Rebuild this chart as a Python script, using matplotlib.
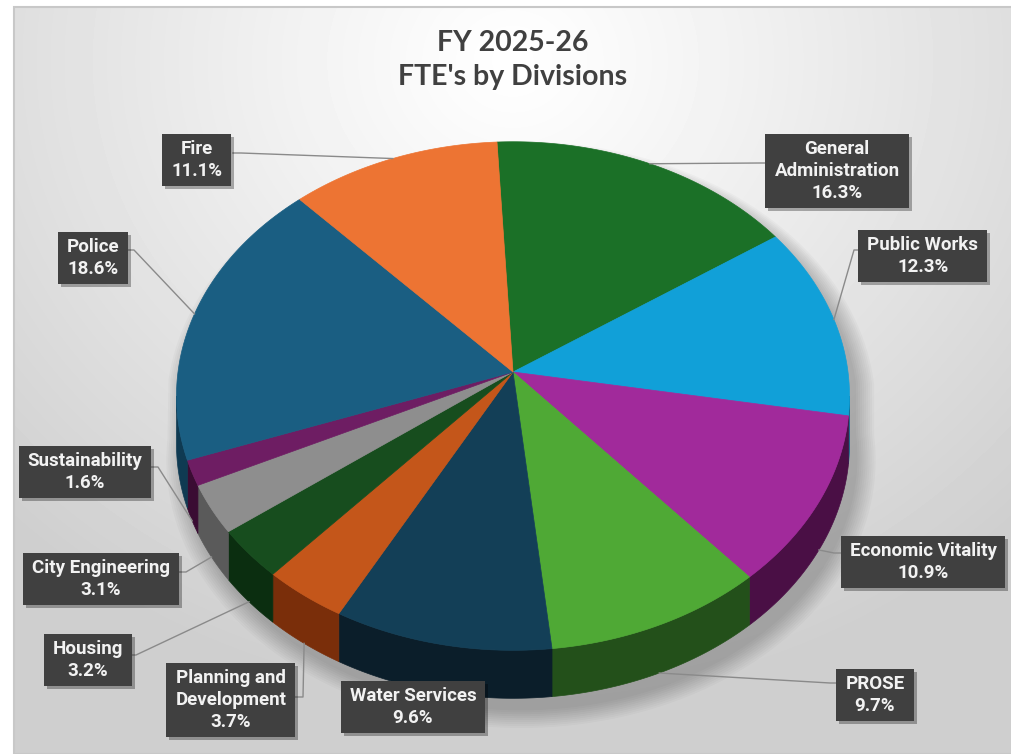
import numpy as np
import matplotlib.pyplot as plt
from matplotlib.patches import Polygon, Rectangle

divisions = ["General\nAdministration", "Public Works", "Economic Vitality", "PROSE",
             "Water Services", "Planning and\nDevelopment", "Housing", "City Engineering",
             "Sustainability", "Police", "Fire"]
fte_pct = [16.3, 12.3, 10.9, 9.7, 9.6, 3.7, 3.2, 3.1, 1.6, 18.6, 11.1]

top_colors = ["#1b7027", "#11a0d8", "#a12a9b", "#4fa935", "#133f57", "#c4561a",
              "#174d1e", "#8e8e8e", "#6e1d63", "#1a5e82", "#ed7433"]
side_colors = ["#0f4316", "#0a6185", "#4a0f45", "#23501a", "#0b1e2a", "#7a2e0a",
               "#0b2e10", "#5a5a5a", "#3a0c33", "#0f3a52", "#9a4518"]

# label box centres and where the leader line leaves the box (pixels)
label_pos = [(837, 171), (923, 256), (923, 562), (875, 695), (413, 707), (231, 700),
             (88, 660), (101, 579), (85, 472), (93, 258), (197, 160)]
leader_box = [(768, 163), (862, 250), (842, 553), (838, 683), (440, 690), (295, 697),
              (128, 655), (178, 572), (150, 467), (126, 250), (233, 153)]

W, H = 1012, 754
cx, cy = 513, 372
rx, ry = 335, 252
k = 0.0945
depth = 48
start = 93.0
front_lo = -180.0 + np.degrees(np.arcsin(k))
front_hi = -np.degrees(np.arcsin(k))


def proj(deg):
    t = np.radians(deg)
    s = 1.0 / (1.0 + k * np.sin(t))
    return cx + rx * np.cos(t) * s, cy - ry * np.sin(t) * s


fig = plt.figure(figsize=(10.12, 7.54), dpi=100)
ax = fig.add_axes([0, 0, 1, 1])
ax.set_xlim(0, W)
ax.set_ylim(H, 0)
ax.axis("off")

# chart area background: light radial gradient
gx, gy = np.meshgrid(np.linspace(14, W, 300), np.linspace(7, H, 240))
d = np.hypot(gx - 513, (gy - 60) / 0.9)
val = 1.0 - 0.19 * np.clip(d / 720, 0, 1) ** 1.1
ax.imshow(val, cmap="gray", vmin=0, vmax=1, extent=(14, W, H, 7), zorder=0,
          interpolation="bilinear", aspect="auto")
ax.add_patch(Rectangle((14, 7), W - 14, H - 7, fill=False, ec="#c8c8c8", lw=1.5, zorder=1))

# angles of slices (clockwise from top)
total = sum(fte_pct)
bounds = start - 360.0 * np.concatenate([[0], np.cumsum(fte_pct)]) / total

# soft shadow under the pie
outline_t = np.linspace(0, 360, 200)
ox, oy = proj(outline_t)
oy = np.where(np.sin(np.radians(outline_t)) < 0, oy + depth, oy)
for i in range(10):
    sc = 1.0 + 0.006 * i
    sx = cx + (ox - cx) * sc + 8
    sy = cy + (oy - cy) * sc + 12
    ax.add_patch(Polygon(np.column_stack([sx, sy]), closed=True, fc="black",
                         ec="none", alpha=0.025, zorder=2))

# side walls (visible front part only)
for i in range(len(fte_pct)):
    a0, a1 = bounds[i], bounds[i + 1]
    hi, lo = min(a0, front_hi), max(a1, front_lo)
    if hi <= lo:
        continue
    th = np.linspace(lo, hi, 60)
    x, y = proj(th)
    pts = np.column_stack([np.concatenate([x, x[::-1]]),
                           np.concatenate([y, y[::-1] + depth])])
    ax.add_patch(Polygon(pts, closed=True, fc=side_colors[i], ec=side_colors[i],
                         lw=0.5, zorder=3))

# top faces
for i in range(len(fte_pct)):
    a0, a1 = bounds[i], bounds[i + 1]
    th = np.linspace(a0, a1, 80)
    x, y = proj(th)
    pts = np.column_stack([np.concatenate([[cx], x]), np.concatenate([[cy], y])])
    ax.add_patch(Polygon(pts, closed=True, fc=top_colors[i], ec=top_colors[i],
                         lw=0.5, zorder=4))

# leader lines and labels
lab_font = ["Roboto", "DejaVu Sans"]
texts = []
for i, name in enumerate(divisions):
    mid = (bounds[i] + bounds[i + 1]) / 2
    axp, ayp = proj(mid)
    if np.sin(np.radians(mid)) < 0:
        ayp = ayp + depth
    bx, by = leader_box[i]
    step = 8 if axp > bx else -8
    ax.plot([bx, bx + step, axp], [by, by, ayp], color="#8a8a8a", lw=1.0, zorder=5)

    lx, ly = label_pos[i]
    t = ax.text(lx, ly, f"{name}\n{fte_pct[i]:.1f}%", ha="center", va="center",
                color="#f2f2f2", fontsize=13.5, fontweight="bold", family=lab_font,
                linespacing=1.3, zorder=8)
    texts.append(t)

ax.text(513, 60, "FY 2025-26\nFTE's by Divisions", ha="center", va="center",
        color="#404040", fontsize=20.5, fontweight="bold",
        family=["Lato", "DejaVu Sans"], linespacing=1.4, zorder=7)

# label boxes sized from rendered text
fig.canvas.draw()
rend = fig.canvas.get_renderer()
inv = ax.transData.inverted()
padx, pady = 9, 6
for t in texts:
    bb = t.get_window_extent(rend)
    (x0, y0), (x1, y1) = inv.transform([[bb.x0, bb.y0], [bb.x1, bb.y1]])
    xl, xr = min(x0, x1) - padx, max(x0, x1) + padx
    yt, yb = min(y0, y1) - pady, max(y0, y1) + pady
    ax.add_patch(Rectangle((xl + 3, yt + 3), xr - xl, yb - yt, fc="black", ec="none",
                           alpha=0.3, zorder=6))
    ax.add_patch(Rectangle((xl, yt), xr - xl, yb - yt, fc="#404040", ec="none",
                           zorder=7))

fig.savefig("out.png", dpi=100)
